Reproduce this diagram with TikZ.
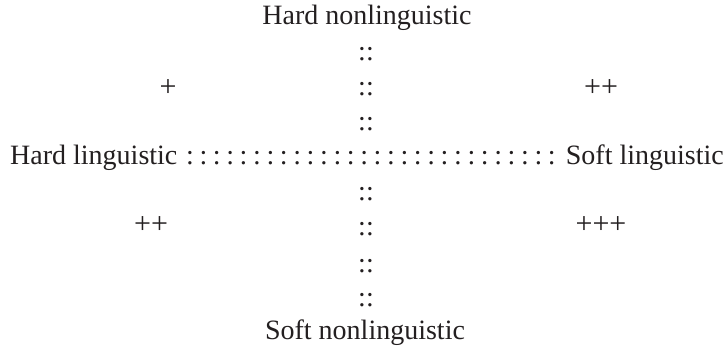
\documentclass[tikz,border=0pt]{standalone}
\usepackage{fontspec}
\setmainfont{Liberation Serif}
\definecolor{ink}{HTML}{231F20}
\begin{document}
\begin{tikzpicture}[x=1pt,y=1pt,
  lbl/.style={font=\fontsize{28}{33}\selectfont, inner sep=0pt, anchor=base, text=ink},
  plusmark/.style={lbl, font=\fontsize{30}{35}\selectfont}]
\useasboundingbox (0,0) rectangle (727,348);
% axis end labels
\node[lbl] (hn) at (367,323) {Hard nonlinguistic};
\node[lbl, anchor=base west] (hl) at (10,183) {Hard linguistic};
\node[lbl, anchor=base east] (sl) at (724,183) {Soft linguistic};
\node[lbl] (sn) at (365,9) {Soft nonlinguistic};
% vertical dotted axis
\foreach \y [count=\k] in {287,252,217,147,112,76,42}
  \node[lbl] (v\k) at (366,\y) {::};
% horizontal dotted axis
\foreach \i in {0,...,27}
  \node[lbl] (h\i) at ({190+\i*13.4},183) {:};
% quadrant marks
\node[plusmark] (q1) at (168,251) {+};
\node[plusmark] (q2) at (601,251) {++};
\node[plusmark] (q3) at (151,114) {++};
\node[plusmark] (q4) at (601,114) {+++};
\end{tikzpicture}
\end{document}
